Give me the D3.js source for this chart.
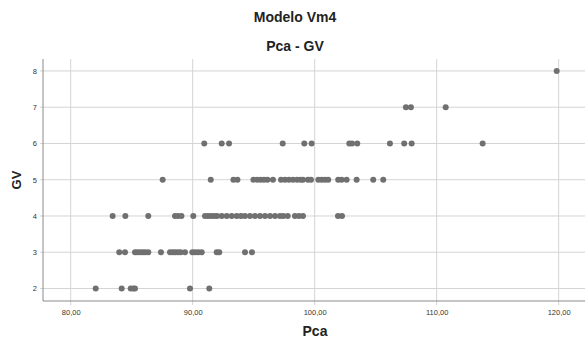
<!DOCTYPE html>
<html><head><meta charset="utf-8">
<script src="https://cdn.jsdelivr.net/npm/d3@7"></script>
<style>body{margin:0;background:#fff}svg{display:block}</style>
</head><body>
<svg id="c" width="588" height="345"></svg>
<script>
// Pca values for each GV level
const gv2 = [82.05, 84.18, 84.92, 85.13, 85.27, 89.78, 91.36];
const gv3 = [83.98, 84.45, 85.27, 85.46, 85.68, 85.9, 86.11, 86.36, 87.4, 88.14, 88.36, 88.57, 88.79, 89.01, 89.37, 89.97, 90.2, 90.46, 90.74, 91.97, 92.18, 94.29, 94.86];
const gv4 = [83.44, 84.48, 86.36, 88.55, 88.8, 89.08, 90.05, 91.01, 91.25, 91.5, 91.75, 91.99, 92.38, 92.79, 93.2, 93.61, 93.96, 94.29, 94.7, 95.11, 95.52, 95.93, 96.34, 96.75, 97.16, 97.43, 97.79, 98.38, 98.71, 99.04, 101.91, 102.24];
const gv5 = [87.54, 91.48, 93.34, 93.67, 94.98, 95.27, 95.56, 95.84, 96.13, 96.58, 97.24, 97.57, 97.89, 98.22, 98.55, 98.84, 99.04, 99.45, 99.7, 100.3, 100.57, 100.84, 101.11, 101.93, 102.21, 102.62, 103.44, 104.8, 105.62];
const gv6 = [90.95, 92.38, 92.98, 97.38, 99.15, 99.75, 102.84, 103.06, 103.49, 106.17, 107.34, 107.95, 113.77];
const gv7 = [107.48, 107.89, 110.74];
const gv8 = [119.84];
const xTicks = [80, 90, 100, 110, 120];
const yTicks = [2, 3, 4, 5, 6, 7, 8];
const title = "Modelo Vm4", subtitle = "Pca - GV", xTitle = "Pca", yTitle = "GV";

const groups = [[2, gv2], [3, gv3], [4, gv4], [5, gv5], [6, gv6], [7, gv7], [8, gv8]];
const points = groups.flatMap(([g, arr]) => arr.map(v => ({x: v, y: g})));

const svg = d3.select("#c");
const L = 43, R = 585, T = 59, B = 301;
const x = d3.scaleLinear().domain([77.73, 122.16]).range([L, R]);
const y = d3.scaleLinear().domain([1.655, 8.33]).range([B, T]);
const fmt = d => d.toFixed(2).replace(".", ",");

// gridlines
svg.append("g").selectAll("line").data(xTicks).join("line")
  .attr("x1", d => x(d)).attr("x2", d => x(d)).attr("y1", T).attr("y2", B + 4)
  .attr("stroke", "#d4d4d4").attr("stroke-width", 1);
svg.append("g").selectAll("line").data(yTicks).join("line")
  .attr("x1", L - 3).attr("x2", R).attr("y1", d => y(d)).attr("y2", d => y(d))
  .attr("stroke", "#d4d4d4").attr("stroke-width", 1);

// axes
const xa = svg.append("g").attr("transform", `translate(0,${B})`)
  .call(d3.axisBottom(x).tickValues(xTicks).tickFormat(fmt).tickSize(0).tickPadding(9));
xa.select(".domain").remove();
xa.selectAll("text").attr("font-family", "Arial, Liberation Sans, sans-serif").attr("font-size", 7.5).attr("fill", "#333");
const ya = svg.append("g").attr("transform", `translate(${L},0)`)
  .call(d3.axisLeft(y).tickValues(yTicks).tickFormat(d3.format("d")).tickSize(0).tickPadding(6));
ya.select(".domain").remove();
ya.selectAll("text").attr("font-family", "Arial, Liberation Sans, sans-serif").attr("font-size", 7.5).attr("fill", "#333");

svg.append("line").attr("x1", L).attr("x2", L).attr("y1", T).attr("y2", B).attr("stroke", "#8a8a8a").attr("stroke-width", 1);
svg.append("line").attr("x1", L).attr("x2", R).attr("y1", B).attr("y2", B).attr("stroke", "#8a8a8a").attr("stroke-width", 1);

// points
svg.append("g").selectAll("circle").data(points).join("circle")
  .attr("cx", d => x(d.x)).attr("cy", d => y(d.y)).attr("r", 3)
  .attr("fill", "#707070");

// titles
const tf = "Arial, Liberation Sans, sans-serif";
svg.append("text").attr("x", 295).attr("y", 22).attr("text-anchor", "middle")
  .attr("font-family", tf).attr("font-weight", "bold").attr("font-size", 14).attr("fill", "#222").text(title);
svg.append("text").attr("x", 295).attr("y", 51).attr("text-anchor", "middle")
  .attr("font-family", tf).attr("font-weight", "bold").attr("font-size", 14).attr("fill", "#222").text(subtitle);
svg.append("text").attr("x", 315).attr("y", 336).attr("text-anchor", "middle")
  .attr("font-family", tf).attr("font-weight", "bold").attr("font-size", 14).attr("fill", "#222").text(xTitle);
svg.append("text").attr("transform", "translate(21,180) rotate(-90)").attr("text-anchor", "middle")
  .attr("font-family", tf).attr("font-weight", "bold").attr("font-size", 13).attr("fill", "#222").text(yTitle);
</script>
</body></html>
